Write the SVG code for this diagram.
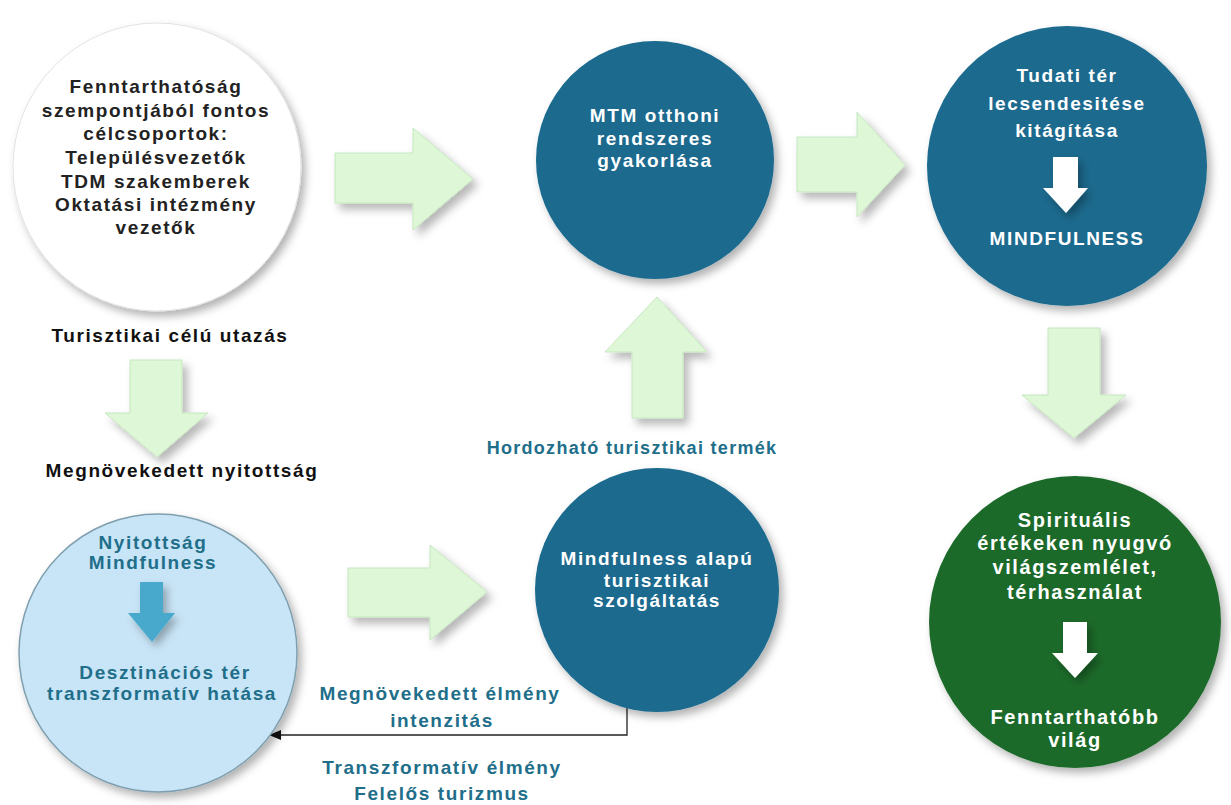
<svg xmlns="http://www.w3.org/2000/svg" width="1231" height="805" viewBox="0 0 1231 805">
<defs>
<filter id="sh" x="-20%" y="-20%" width="150%" height="150%">
<feDropShadow dx="4" dy="5" stdDeviation="4" flood-color="#000" flood-opacity="0.3"/>
</filter>
<filter id="ash" x="-30%" y="-30%" width="170%" height="170%">
<feDropShadow dx="5" dy="6" stdDeviation="4" flood-color="#000" flood-opacity="0.28"/>
</filter>
<marker id="ah" markerWidth="12" markerHeight="10" refX="11" refY="5" orient="auto" markerUnits="userSpaceOnUse">
<path d="M0,0 L12,5 L0,10 Z" fill="#111"/>
</marker>
<style>
text{font-family:"Liberation Sans",Arial,sans-serif;font-weight:bold;font-size:19px;letter-spacing:1.6px;text-anchor:middle}
.dk{fill:#222}
.bk{fill:#111}
.wt{fill:#ffffff}
.tl{fill:#216e8a}
.g{font-size:20px}
.arrow{fill:#ddf7d7;stroke:#c7e7c0;stroke-width:1;filter:url(#ash)}
.dblue{fill:#1a6a8e;filter:url(#sh)}
</style>
</defs>

<g id="connectors">
<path class="arrow" d="M335,153 H413 V128 L473,179 L413,230 V203 H335 Z"/>
<path class="arrow" d="M797,137 H857 V112 L905,165 L857,217 V192 H797 Z"/>
<path class="arrow" d="M1048,328 H1100 V395 H1126 L1074,438 L1022,395 H1048 Z"/>
<path class="arrow" d="M657,297 L707,352 H683 V418 H632 V352 H605 Z"/>
<path class="arrow" d="M348,568 H430 V545 L487,592 L430,640 V617 H348 Z"/>
<path class="arrow" d="M130,360 H182 V413 H208 L157,457 L105,413 H130 Z"/>
<polyline points="627,708 627,735 270,735" fill="none" stroke="#222" stroke-width="1.3" marker-end="url(#ah)"/>
</g>

<g id="n-targets">
<circle cx="157" cy="167" r="144" fill="#ffffff" stroke="#e2e2e2" stroke-width="1" filter="url(#sh)"/>
<text class="dk" x="156" y="93">Fenntarthatóság</text>
<text class="dk" x="156" y="116.5">szempontjából fontos</text>
<text class="dk" x="156" y="140">célcsoportok:</text>
<text class="dk" x="156" y="164">Településvezetők</text>
<text class="dk" x="156" y="188">TDM szakemberek</text>
<text class="dk" x="156" y="211">Oktatási intézmény</text>
<text class="dk" x="156" y="234">vezetők</text>
</g>

<g id="l-travel">
<text class="bk" x="170" y="342">Turisztikai célú utazás</text>
</g>

<g id="l-openness">
<text class="bk" x="182" y="477">Megnövekedett nyitottság</text>
</g>

<g id="n-destination">
<circle cx="158" cy="653" r="139" fill="#c8e5f7" stroke="#7f9fae" stroke-width="1.5" filter="url(#sh)"/>
<text class="tl" x="153" y="549">Nyitottság</text>
<text class="tl" x="153" y="569">Mindfulness</text>
<path d="M140,582 H163 V613 H175 L152,642 L128,613 H140 Z" fill="#48a9cc" filter="url(#sh)"/>
<text class="tl" x="165" y="679">Desztinációs tér</text>
<text class="tl" x="162" y="700">transzformatív hatása</text>
</g>

<g id="n-mtm">
<circle class="dblue" cx="655" cy="160" r="119"/>
<text class="wt" x="655" y="122">MTM otthoni</text>
<text class="wt" x="655" y="145">rendszeres</text>
<text class="wt" x="655" y="167">gyakorlása</text>
</g>

<g id="n-tudati">
<circle class="dblue" cx="1067" cy="166" r="140"/>
<text class="wt" x="1067" y="82">Tudati tér</text>
<text class="wt" x="1067" y="110">lecsendesitése</text>
<text class="wt" x="1067" y="137">kitágítása</text>
<path d="M1053,157 H1078 V188 H1088 L1066,213 L1043,188 H1053 Z" fill="#ffffff" filter="url(#sh)"/>
<text class="wt" x="1067" y="245">MINDFULNESS</text>
</g>

<g id="l-portable">
<text class="tl" x="632" y="454" style="font-size:18px;letter-spacing:1.3px">Hordozható turisztikai termék</text>
</g>

<g id="n-service">
<circle class="dblue" cx="657" cy="590" r="122"/>
<text class="wt" x="657" y="565">Mindfulness alapú</text>
<text class="wt" x="657" y="587">turisztikai</text>
<text class="wt" x="657" y="607">szolgáltatás</text>
</g>

<g id="l-intensity">
<text class="tl" x="440" y="700">Megnövekedett élmény</text>
<text class="tl" x="442" y="727">intenzitás</text>
</g>

<g id="l-transform">
<text class="tl" x="442" y="774">Transzformatív élmény</text>
<text class="tl" x="442" y="800">Felelős turizmus</text>
</g>

<g id="n-world">
<circle cx="1075" cy="622" r="146" fill="#1e6b2b" filter="url(#sh)"/>
<text class="wt g" x="1075" y="527">Spirituális</text>
<text class="wt g" x="1075" y="550">értékeken nyugvó</text>
<text class="wt g" x="1075" y="574">világszemlélet,</text>
<text class="wt g" x="1075" y="599">térhasználat</text>
<path d="M1063,622 H1087 V653 H1098 L1075,678 L1052,653 H1063 Z" fill="#ffffff" filter="url(#sh)"/>
<text class="wt g" x="1075" y="724">Fenntarthatóbb</text>
<text class="wt g" x="1075" y="747">világ</text>
</g>
</svg>
